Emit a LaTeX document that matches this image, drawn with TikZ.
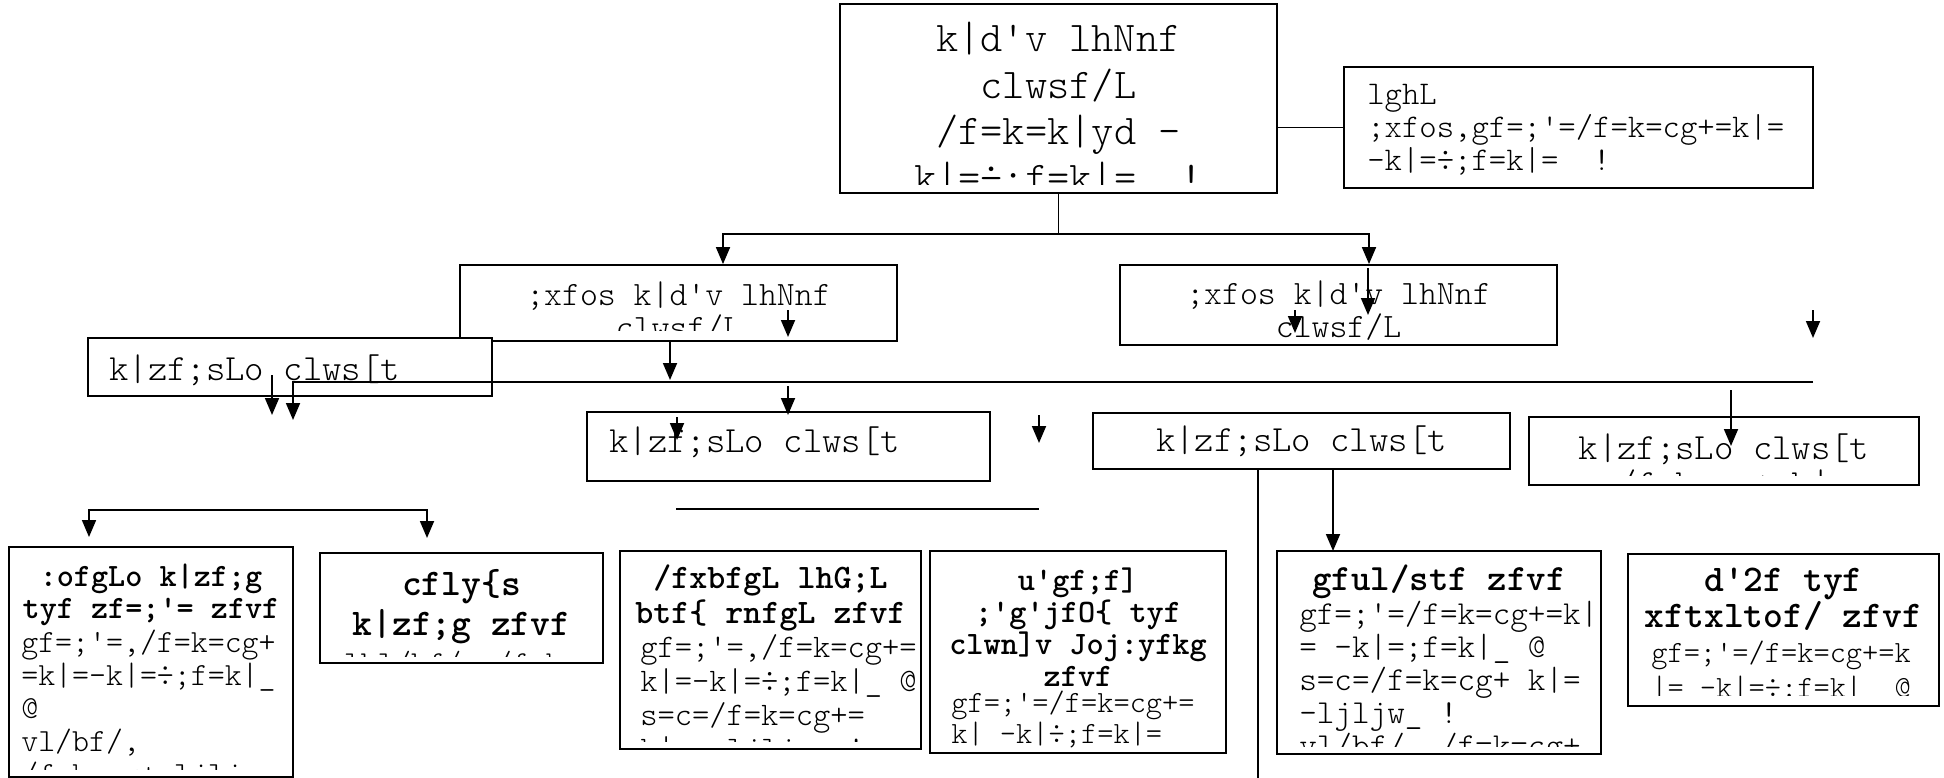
\documentclass[tikz,border=0pt]{standalone}
\usepackage{fontspec}
\setmonofont{lmmonolt10-regular.otf}[BoldFont=lmmonolt10-bold.otf]
\usetikzlibrary{arrows.meta, positioning, calc}

\newcommand{\monosize}[2]{\ttfamily\fontsize{#1}{#2}\selectfont}

\tikzset{
  box/.style={draw, fill=white, line width=1.8pt, inner sep=0pt},
  wire/.style={line width=1.8pt},
  arr/.style={line width=1.8pt, -{Triangle[width=14pt,length=17pt]}},
  txt/.style={inner sep=0pt, align=center, anchor=base},
  body/.style={inner sep=0pt, align=left, anchor=base west},
}

\begin{document}
\begin{tikzpicture}[x=1pt, y=-1pt]
        \useasboundingbox (0,0) rectangle (1944,778);

        % Head office and its note (text nodes sit on their last baseline)
        \node[box, minimum width=437pt, minimum height=189pt] (head) at (1058.5,98.5) {};
        \begin{scope}
            \clip ($(head.north west)+(0,4)$) rectangle ($(head.south east)+(0,-9)$);
            \node[txt, font=\monosize{42.3}{46.5}] (head-t) at ($(head.north)+(0,188)$)
                {k|d'v lhNnf\\clwsf/L\\/f=k=k|yd -\\k|=÷;f=k|=~~!};
        \end{scope}

        \node[box, minimum width=469pt, minimum height=121pt] (note) at (1578.5,127.5) {};
        \node[body, font=\monosize{33.1}{33}] (note-t) at ($(note.north west)+(24,104)$)
            {lghL\\;xfos,gf=;'=/f=k=cg+=k|=\\-k|=÷;f=k|=~~!};

        % Second level
        \node[box, minimum width=437pt, minimum height=76pt] (side1) at (678.5,303) {};
        \begin{scope}
            \clip ($(side1.north west)+(0,4)$) rectangle ($(side1.south east)+(0,-11)$);
            \node[txt, font=\monosize{34.1}{33}] (side1-t) at ($(side1.north)+(0,74)$)
                {;xfos k|d'v lhNnf\\clwsf/L};
        \end{scope}

        \node[box, minimum width=437pt, minimum height=80pt] (side2) at (1338.5,305) {};
        \node[txt, font=\monosize{34.1}{33}] (side2-t) at ($(side2.north)+(0,73)$)
            {;xfos k|d'v lhNnf\\clwsf/L};

        % Department boxes
        \node[box, minimum width=404pt, minimum height=58pt] (kzf1) at (290,367) {};
        \node[body, font=\monosize{36.9}{36}] (kzf1-t) at ($(kzf1.north west)+(22,43)$) {k|zf;sLo clws[t};

        \node[box, minimum width=403pt, minimum height=69pt] (kzf2) at (788.5,446.5) {};
        \node[body, font=\monosize{36.9}{36}] (kzf2-t) at ($(kzf2.north west)+(23,41)$) {k|zf;sLo clws[t};

        \node[box, minimum width=417pt, minimum height=56pt] (kzf3) at (1301.5,441) {};
        \node[txt, font=\monosize{36.9}{36}] (kzf3-t) at ($(kzf3.north)+(0,39)$) {k|zf;sLo clws[t};

        \node[box, minimum width=390pt, minimum height=68pt] (kzf4) at (1724,451) {};
        \begin{scope}
            \clip ($(kzf4.north west)+(0,4)$) rectangle ($(kzf4.south east)+(0,-10)$);
            \node[txt, font=\monosize{36.9}{36}] (kzf4-t) at ($(kzf4.north)+(0,79)$)
                {k|zf;sLo clws[t\\/f=k=cg+=k|};
        \end{scope}

        % Branch boxes
        \node[box, minimum width=284pt, minimum height=230pt] (b1) at (151,662) {};
        \begin{scope}
            \clip ($(b1.north west)+(0,4)$) rectangle ($(b1.south east)+(0,-8)$);
            \node[txt, font=\monosize{32.6}{32}\bfseries] (b1-h) at ($(b1.north)+(0,72)$)
                {:ofgLo k|zf;g\\tyf zf=;'= zfvf};
            \node[body, font=\monosize{32.3}{33}] (b1-b) at ($(b1.north west)+(13,238)$)
                {gf=;'=,/f=k=cg+\\=k|=-k|=÷;f=k|\_\\@\\vl/bf/,\\/f=k=cg+ ljljw\_};
        \end{scope}

        \node[box, minimum width=283pt, minimum height=110pt] (b2) at (461.5,608) {};
        \begin{scope}
            \clip ($(b2.north west)+(0,4)$) rectangle ($(b2.south east)+(0,-7)$);
            \node[txt, font=\monosize{37.7}{40}\bfseries] (b2-h) at ($(b2.north)+(0,83)$)
                {cfly\{s\\k|zf;g zfvf};
            \node[txt, font=\monosize{32}{32}] (b2-b) at ($(b2.north)+(0,121)$) {lbl/bf/, /f=k=};
        \end{scope}

        \node[box, minimum width=301pt, minimum height=198pt] (b3) at (770.5,650) {};
        \begin{scope}
            \clip ($(b3.north west)+(0,4)$) rectangle ($(b3.south east)+(0,-8)$);
            \node[txt, font=\monosize{34.3}{35}\bfseries] (b3-h) at ($(b3.north)+(0,73)$)
                {/fxbfgL lhG;L\\btf\{ rnfgL zfvf};
            \node[body, font=\monosize{32.9}{34}] (b3-b) at ($(b3.north west)+(21,209)$)
                {gf=;'=,/f=k=cg+=\\k|=-k|=÷;f=k|\_ @\\s=c=/f=k=cg+=\\k|= -ljljw\_ !};
        \end{scope}

        \node[box, minimum width=296pt, minimum height=202pt] (b4) at (1078,652) {};
        \begin{scope}
            \clip ($(b4.north west)+(0,4)$) rectangle ($(b4.south east)+(0,-6)$);
            \node[txt, font=\monosize{32.7}{32}\bfseries] (b4-h) at ($(b4.north)+(0,136)$)
                {u'gf;f]\\;'g'jfO\{ tyf\\clwn]v Joj:yfkg\\zfvf};
            \node[body, font=\monosize{30.9}{31}] (b4-b) at ($(b4.north west)+(22,193)$)
                {gf=;'=/f=k=cg+=\\k| -k|÷;f=k|=};
        \end{scope}

        \node[box, minimum width=324pt, minimum height=203pt] (b5) at (1439,652.5) {};
        \begin{scope}
            \clip ($(b5.north west)+(0,4)$) rectangle ($(b5.south east)+(0,-8)$);
            \node[txt, font=\monosize{37.1}{34}\bfseries] (b5-h) at ($(b5.north)+(0,40)$)
                {gful/stf zfvf};
            \node[body, font=\monosize{33.5}{33}] (b5-b) at ($(b5.north west)+(23,206)$)
                {gf=;'=/f=k=cg+=k|\\= -k|=;f=k|\_ @\\s=c=/f=k=cg+ k|=\\-ljljw\_ !\\vl/bf/, /f=k=cg+};
        \end{scope}

        \node[box, minimum width=311pt, minimum height=152pt] (b6) at (1783.5,630) {};
        \begin{scope}
            \clip ($(b6.north west)+(0,4)$) rectangle ($(b6.south east)+(0,-11)$);
            \node[txt, font=\monosize{37.7}{34}\bfseries] (b6-h) at ($(b6.north)+(0,74)$)
                {d'2f tyf\\xftxltof/ zfvf};
            \node[body, font=\monosize{30.9}{35}] (b6-b) at ($(b6.north west)+(24,144)$)
                {gf=;'=/f=k=cg+=k\\|= -k|=÷;f=k|\_ @};
        \end{scope}

        % Connectors
        \draw[wire] (note.west -| head.east) -- (note.west);

        \coordinate (fork) at ($(head.south)+(0,40)$);
        \coordinate (side1-in) at ([xshift=44.5pt]side1.north);
        \coordinate (side2-in) at ([xshift=30.5pt]side2.north);
        \draw[wire] (head.south) -- (fork);
        \draw[arr] (fork) -| (side1-in);
        \draw[arr] (fork) -| (side2-in);

        \coordinate (drop) at (670,380);
        \draw[arr] (drop |- side1.south) -- (drop);

        \coordinate (rail-e) at (1813,382);
        \coordinate (rail-w) at (293,420);
        \draw[arr] (rail-e) -| (rail-w);

        \coordinate (sep-w) at (676,509);
        \coordinate (sep-e) at (1039,509);
        \draw[wire] (sep-w) -- (sep-e);

        \coordinate (bar) at (258,510);
        \coordinate (b1-in) at (89,537);
        \coordinate (b2-in) at (427,538);
        \draw[arr] (bar) -| (b1-in);
        \draw[arr] (bar) -| (b2-in);

        \coordinate (cut) at (1258,778);
        \draw[wire] (cut |- kzf3.south) -- (cut);

        \coordinate (b5-in) at (1333,551);
        \draw[arr] (b5-in |- kzf3.south) -- (b5-in);

        % Short arrows
        \foreach \n/\x/\ya/\yb in {s1/788/310/337, s2/1368/268/315, s3/1295/310/333,
                s4/1813/310/338, s5/272/375/415, s6/788/386/415, s7/677/417/440,
                s8/1039/415/443, s9/1731/390/446} {
            \coordinate (\n-a) at (\x,\ya);
            \coordinate (\n-b) at (\x,\yb);
            \draw[arr] (\n-a) -- (\n-b);
        }

\end{tikzpicture}
\end{document}
